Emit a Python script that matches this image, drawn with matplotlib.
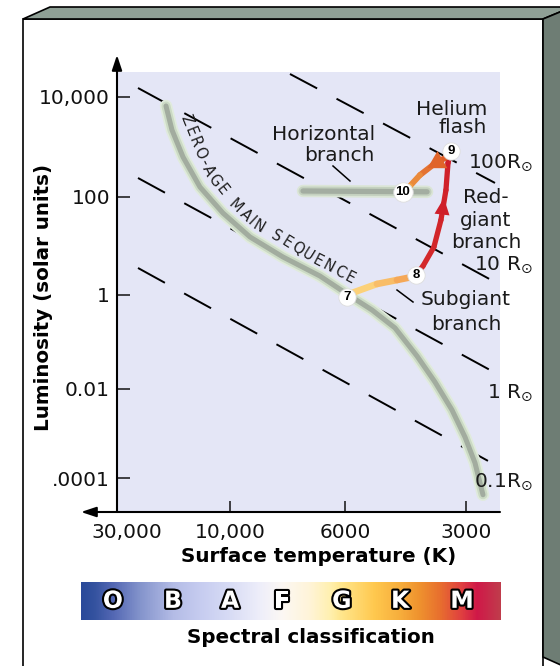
import numpy as np
import matplotlib
matplotlib.use('Agg')
import matplotlib.pyplot as plt
import matplotlib.patheffects as pe
from matplotlib.colors import LinearSegmentedColormap
from matplotlib.collections import LineCollection
from matplotlib.patches import Polygon
from matplotlib.lines import Line2D
from matplotlib.transforms import ScaledTranslation

# ---- data ----
TEMP_TICKS = [30000, 10000, 6000, 3000]
TEMP_TICK_LABELS = ['30,000', '10,000', '6000', '3000']
LUM_TICKS = [1e4, 1e2, 1, 1e-2, 1e-4]
LUM_TICK_LABELS = ['10,000', '100', '1', '0.01', '.0001']

# zero-age main sequence (K, solar units)
zams_t = [18630, 17580, 15790, 13390, 10710, 9150, 7904, 6706, 5932, 5140,
          4506, 3973, 3584, 3251, 3017, 2850, 2722]
zams_l = [6610, 2190, 631, 158, 47.1, 15.3, 5.97, 2.44, 1.05, 0.48,
          0.199, 0.0504, 0.0141, 0.00338, 8.3e-4, 2.2e-4, 4.2e-5]

# horizontal branch
hb_t = [7230, 3750]
hb_l = [132, 127]

# evolution track pieces
subgiant_t = [5932, 5766, 4996, 4455, 4089, 3996]
subgiant_l = [0.91, 1.10, 1.68, 2.02, 2.33, 2.56]
redgiant_t = [3996, 3838, 3605, 3463, 3365, 3326, 3270]
redgiant_l = [2.56, 3.91, 9.55, 34.0, 138, 479, 832]
flash_t = [3270, 3384, 3626, 3905, 4136, 4304]
flash_l = [832, 603, 437, 275, 166, 126]

stage_names = ['7', '8', '9', '10']
stage_t = [5932, 3996, 3270, 4304]
stage_l = [0.91, 2.56, 832, 126]

# constant radius lines (start / end points)
radius_names = ['100', '10', '1', '0.1']
radius_t_start = [7661, 24460, 24460, 24460]
radius_l_start = [28840, 15140, 240, 3.56]
radius_t_end = [2541, 2541, 2615, 2615]
radius_l_end = [191, 1.84, 0.0254, 2.29e-4]

spectral_classes = ['O', 'B', 'A', 'F', 'G', 'K', 'M']

# ---- layout ----
W, H = 560, 666

def fx(x):
    return x / W

def fy(y):
    return 1 - y / H


def piecewise(knot_log, knot_pos):
    kl = np.asarray(knot_log, float)
    kp = np.asarray(knot_pos, float)
    s0 = (kp[1] - kp[0]) / (kl[1] - kl[0])
    s1 = (kp[-1] - kp[-2]) / (kl[-1] - kl[-2])

    def fwd(v):
        v = np.asarray(v, float)
        with np.errstate(divide='ignore', invalid='ignore'):
            lv = np.log10(np.where(v > 0, v, np.nan))
        out = np.interp(lv, kl, kp)
        out = np.where(lv < kl[0], kp[0] + (lv - kl[0]) * s0, out)
        out = np.where(lv > kl[-1], kp[-1] + (lv - kl[-1]) * s1, out)
        return out

    def inv(p):
        p = np.asarray(p, float)
        lv = np.interp(p, kp, kl)
        lv = np.where(p < kp[0], kl[0] + (p - kp[0]) / s0, lv)
        lv = np.where(p > kp[-1], kl[-1] + (p - kp[-1]) / s1, lv)
        return 10 ** lv

    return fwd, inv

# schematic axes: tick spacing as drawn in the figure
xf, xi = piecewise(np.log10(TEMP_TICKS[::-1]), [-349, -228, -113, 0])
yf, yi = piecewise(np.log10(LUM_TICKS[::-1]), [-478, -389, -295, -197, -97])

fig = plt.figure(figsize=(W / 100, H / 100), dpi=100)
fig.patch.set_facecolor('white')

# 3D frame
def frame(pts, fc, z):
    poly = Polygon([(fx(a), fy(b)) for a, b in pts], closed=True, facecolor=fc,
                   edgecolor='black', lw=1.2, transform=fig.transFigure, zorder=z)
    fig.add_artist(poly)

frame([(23, 19), (543, 19), (543, 670), (23, 670)], 'white', -10)
frame([(23, 19), (50, 7), (572, 7), (543, 19)], '#8fa096', -9)
frame([(543, 19), (572, 7), (572, 670), (543, 657)], '#6e7d74', -9)

ax = fig.add_axes([fx(117), fy(512), 383 / W, 440 / H])
ax.set_facecolor('#e4e6f6')
ax.set_xscale('function', functions=(xf, xi))
ax.set_yscale('function', functions=(yf, yi))
ax.set_xlim(30000, float(xi(-383)))
ax.set_ylim(float(yi(-512)), float(yi(-72)))
for s in ax.spines.values():
    s.set_visible(False)

ax.set_xticks(TEMP_TICKS, labels=TEMP_TICK_LABELS)
ax.set_yticks(LUM_TICKS, labels=LUM_TICK_LABELS)
ax.minorticks_off()
ax.tick_params(axis='x', direction='in', length=8, width=1.1, pad=8,
               labelsize=14.5, colors='#111111')
ax.tick_params(axis='y', direction='in', length=9.5, width=1.1, pad=5,
               labelsize=14.5, colors='#111111')
lab0 = ax.get_xticklabels()[0]
lab0.set_transform(lab0.get_transform() + ScaledTranslation(0.1, 0, fig.dpi_scale_trans))

# axis arrows
arrow = dict(arrowstyle='-|>,head_length=0.9,head_width=0.3', color='black',
             lw=1.5, mutation_scale=10, shrinkA=0, shrinkB=0)
ax.annotate('', xy=(0, (512 - 55) / 440), xytext=(0, 0), xycoords='axes fraction',
            arrowprops=arrow)
ax.annotate('', xy=((81 - 117) / 383, 0), xytext=(1, 0), xycoords='axes fraction',
            arrowprops=arrow)

# constant radius lines
for i in range(len(radius_names)):
    ax.plot([radius_t_start[i], radius_t_end[i]], [radius_l_start[i], radius_l_end[i]],
            color='black', lw=1.4, dashes=(15.8, 11.3), zorder=2)

# main sequence and horizontal branch bands
ax.plot(zams_t, zams_l, color='#e0ebdc', lw=9, solid_capstyle='round',
        solid_joinstyle='round', zorder=3)
ax.plot(zams_t, zams_l, color='#cbdac4', lw=6.5, solid_capstyle='round',
        solid_joinstyle='round', zorder=3)
ax.plot(zams_t, zams_l, color='#a2ac9f', lw=3.6, solid_capstyle='round',
        solid_joinstyle='round', zorder=3)
ax.plot(hb_t, hb_l, color='#dbe5d7', lw=9, solid_capstyle='round', zorder=3)
ax.plot(hb_t, hb_l, color='#c4d1bf', lw=6.5, solid_capstyle='round', zorder=3)
ax.plot(hb_t, hb_l, color='#a3ada1', lw=3.8, solid_capstyle='round', zorder=3)


def gradient_track(T, L, c0, c1, lw):
    pts = np.column_stack([T, L])
    segs = np.stack([pts[:-1], pts[1:]], axis=1)
    cmap = LinearSegmentedColormap.from_list('trk', [c0, c1])
    cols = cmap(np.linspace(0, 1, len(segs)))
    lc = LineCollection(segs, colors=cols, linewidths=lw, capstyle='round',
                        joinstyle='round', zorder=4)
    ax.add_collection(lc, autolim=False)

gradient_track(subgiant_t, subgiant_l, '#ffe68a', '#f29446', 4.8)
gradient_track(redgiant_t, redgiant_l, '#d42a2a', '#cf1f2a', 3.8)
gradient_track(flash_t, flash_l, '#d8461f', '#f0a044', 4.2)

ax.annotate('', xy=(3404, 95.5), xytext=(3443, 43),
            arrowprops=dict(arrowstyle='-|>,head_length=1.0,head_width=0.45',
                            color='#cf1f2a', lw=0, mutation_scale=12, shrinkA=0, shrinkB=0),
            zorder=5)
ax.annotate('', xy=(3740, 378), xytext=(3482, 525),
            arrowprops=dict(arrowstyle='-|>,head_length=0.95,head_width=0.55',
                            color='#e0642a', lw=0, mutation_scale=13, shrinkA=0, shrinkB=0),
            zorder=5)

# stage markers
for name, t, l in zip(stage_names, stage_t, stage_l):
    ax.plot(t, l, 'o', ms=14 if len(name) > 1 else 12.5, mfc='white',
            mec='#dddddd', mew=0.6, zorder=6)
    ax.text(t, l, name, ha='center', va='center', fontsize=9.5, fontweight='bold',
            family='Liberation Sans', zorder=7)

# axis titles
ax.set_ylabel('Luminosity (solar units)', fontsize=14.3, fontweight='bold')
ax.yaxis.set_label_coords((44 - 117) / 383, (512 - 297) / 440)
ax.yaxis.label.set_va('center')
ax.set_xlabel('Surface temperature (K)', fontsize=14.3, fontweight='bold')
ax.xaxis.set_label_coords((319 - 117) / 383, (512 - 562) / 440)
ax.xaxis.label.set_va('baseline')

# text labels (pixel baseline positions)
labels = [
    ('Horizontal', 375, 140, 'right'), ('branch', 375, 161, 'right'),
    ('Helium', 487, 115, 'right'), ('flash', 487, 133, 'right'),
    ('Red-', 486, 203, 'center'), ('giant', 486, 226, 'center'),
    ('branch', 486, 248, 'center'),
    ('Subgiant', 466, 305, 'center'), ('branch', 466, 330, 'center'),
]
for txt, x, y, ha in labels:
    fig.text(fx(x), fy(y), txt, ha=ha, va='baseline', fontsize=14.5, color='#1a1a1a')

r_baselines = [168, 270, 398, 487]
for name, y in zip(radius_names, r_baselines):
    sep = '' if name in ('100', '0.1') else ' '
    fig.text(fx(533), fy(y), name + sep + r'R$_{\odot}$', ha='right', va='baseline',
             fontsize=14.5, color='#1a1a1a')

# pointer lines
for (x1, y1), (x2, y2) in [((333, 166), (350, 181)), ((397, 290), (413, 302))]:
    fig.add_artist(Line2D([fx(x1), fx(x2)], [fy(y1), fy(y2)], color='black', lw=1.1,
                          transform=fig.transFigure))

# curved "ZERO-AGE MAIN SEQUENCE" text
path = np.array([(186, 120), (198, 150), (212, 178), (232, 203), (253, 223),
                 (283, 240), (315, 260), (350, 278)], float)
seg = np.diff(path, axis=0)
seglen = np.hypot(seg[:, 0], seg[:, 1])
cum = np.concatenate([[0], np.cumsum(seglen)])
zams_text = 'ZERO-AGE MAIN SEQUENCE'
cw = np.array([{' ': 0.7, '-': 0.55, 'I': 0.45, 'M': 1.2}.get(c, 1.0) for c in zams_text])
centers = np.cumsum(cw) - cw / 2
arc = (centers - centers[0]) / (centers[-1] - centers[0]) * cum[-1]
for ch, s in zip(zams_text, arc):
    if ch == ' ':
        continue
    k = min(np.searchsorted(cum, s, side='right') - 1, len(seg) - 1)
    f = (s - cum[k]) / seglen[k]
    x, y = path[k] + f * seg[k]
    ang = np.degrees(np.arctan2(-seg[k, 1], seg[k, 0]))
    fig.text(fx(x), fy(y), ch, rotation=ang, rotation_mode='anchor', ha='center',
             va='center', fontsize=10.5, color='#1e1e1e')

# spectral classification bar
stops = [(0.0, '#2a4a9a'), (0.03, '#34529f'), (0.076, '#5468b4'), (0.14, '#8494cc'),
         (0.219, '#b4bce6'), (0.283, '#c6ccf0'), (0.355, '#d8dcf5'), (0.426, '#eeeefa'),
         (0.479, '#fcf8f4'), (0.545, '#fff4d8'), (0.593, '#fff0b0'), (0.621, '#ffe68c'),
         (0.70, '#ffc84e'), (0.76, '#f7ae3c'), (0.807, '#ef922e'), (0.855, '#e8702e'),
         (0.907, '#e04040'), (0.945, '#d01848'), (1.0, '#c03c4c')]
spec_cmap = LinearSegmentedColormap.from_list('spec', stops)
cax = fig.add_axes([fx(81), fy(620), 420 / W, 38 / H])
cax.imshow(np.linspace(0, 1, 512)[None, :], cmap=spec_cmap, aspect='auto',
           extent=[0, 1, 0, 1])
cax.axis('off')
letter_pos = [0.076, 0.219, 0.355, 0.479, 0.621, 0.760, 0.907]
for c, p in zip(spectral_classes, letter_pos):
    cax.text(p, 0.32, c, ha='center', va='baseline', fontsize=17, fontweight='bold',
             color='white', path_effects=[pe.Stroke(linewidth=3, foreground='black'),
                                          pe.Normal()])
fig.text(fx(311), fy(643), 'Spectral classification', ha='center', va='baseline',
         fontsize=14.3, fontweight='bold')

fig.savefig('out.png', dpi=100)
